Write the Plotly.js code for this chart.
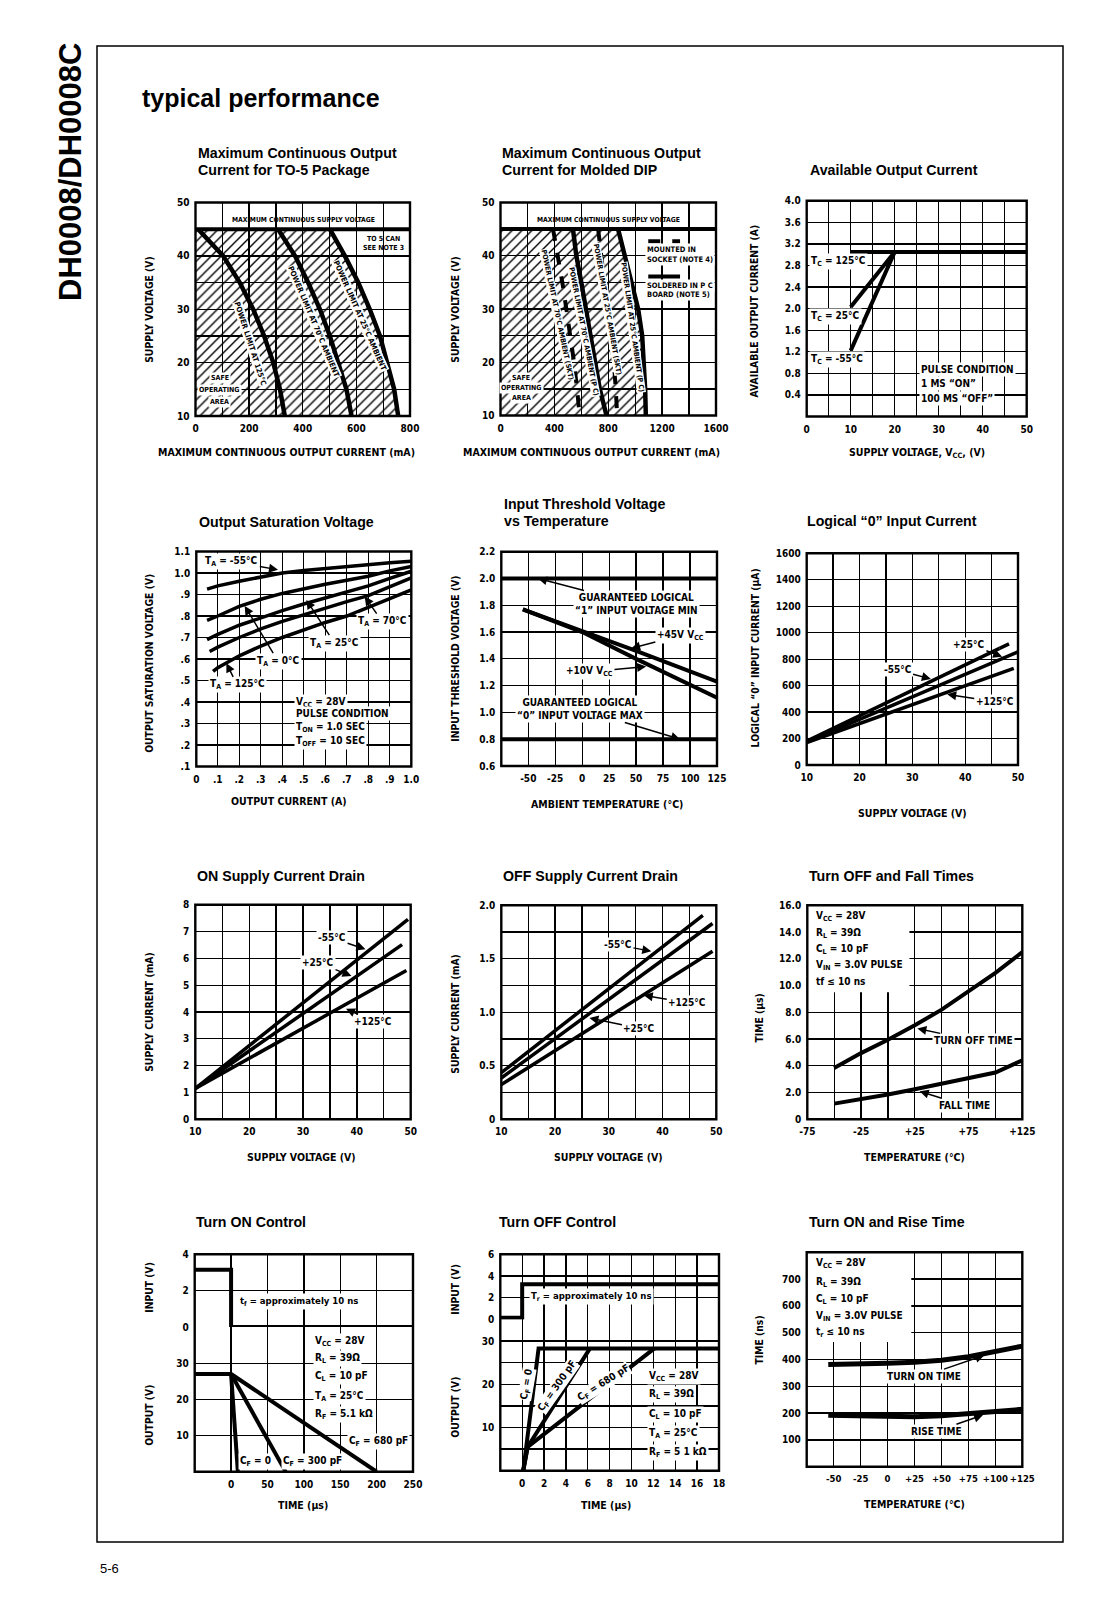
<!DOCTYPE html>
<html><head><meta charset="utf-8">
<script src="https://cdn.plot.ly/plotly-3.0.1.min.js"></script>
<style>html,body{margin:0;padding:0;background:#fff}#chart{width:1101px;height:1599px}</style>
</head><body><div id="chart"></div>
<script>
// ================= DATA =================
// 1: Maximum Continuous Output Current for TO-5 Package
const c1_voltage = [45, 40, 35, 30, 25, 20, 15, 10];
const c1_i125 = [10, 103, 165, 215, 256, 290, 315, 333];
const c1_i70 = [308, 371, 420, 464, 501, 532, 563, 582];
const c1_i25 = [501, 557, 607, 650, 688, 716, 741, 756];
const c1_maxSupply = 45;
const c1_xgrid = [0,100,200,300,400,500,600,700,800];
const c1_xticks = [0,200,400,600,800];
const c1_xtext = ['0','200','400','600','800'];
const c1_ygrid = [10,15,20,25,30,35,40,45,50];
const c1_yticks = [10,20,30,40,50];
const c1_ytext = ['10','20','30','40','50'];
// 2: Maximum Continuous Output Current for Molded DIP
const c2_voltage = [45, 40, 35, 30, 25, 20, 15, 10];
const c2_i70skt = [390, 427, 459, 489, 519, 546, 568, 588];
const c2_i70pc = [538, 563, 600, 633, 663, 700, 737, 787];
const c2_i25skt = [725, 749, 774, 799, 824, 841, 856, 866];
const c2_i25pc = [873, 923, 973, 1022, 1052, 1067, 1074, 1079];
const c2_maxSupply = 45;
const c2_xgrid = [0,200,400,600,800,1000,1200,1400,1600];
const c2_xticks = [0,400,800,1200,1600];
const c2_xtext = ['0','400','800','1200','1600'];
// 3: Available Output Current
const c3_vcc125 = [10, 50];
const c3_i125 = [3.05, 3.05];
const c3_vcc25 = [10, 20];
const c3_i25 = [2.03, 3.05];
const c3_vccm55 = [10, 20];
const c3_im55 = [1.22, 3.05];
const c3_xgrid = [0,5,10,15,20,25,30,35,40,45,50];
const c3_xticks = [0,10,20,30,40,50];
const c3_xtext = ['0','10','20','30','40','50'];
const c3_ygrid = [0,0.4,0.8,1.2,1.6,2.0,2.4,2.8,3.2,3.6,4.0];
const c3_yticks = [0.4,0.8,1.2,1.6,2.0,2.4,2.8,3.2,3.6,4.0];
const c3_ytext = ['0.4','0.8','1.2','1.6','2.0','2.4','2.8','3.2','3.6','4.0'];
// 4: Output Saturation Voltage
const c4_im55 = [0.05,0.1,0.2,0.3,0.4,0.5,0.6,0.7,0.8,0.9,1.0];
const c4_vm55 = [0.925,0.94,0.962,0.983,1.0,1.012,1.022,1.032,1.04,1.048,1.055];
const c4_i0 = [0.05,0.1,0.2,0.3,0.4,0.5,0.6,0.7,0.8,0.9,1.0];
const c4_v0 = [0.78,0.80,0.845,0.878,0.905,0.928,0.948,0.966,0.985,1.01,1.03];
const c4_i25 = [0.05,0.1,0.2,0.3,0.4,0.5,0.6,0.7,0.8,0.9,1.0];
const c4_v25 = [0.69,0.715,0.757,0.792,0.825,0.856,0.885,0.912,0.94,0.975,1.008];
const c4_i70 = [0.062,0.1,0.2,0.3,0.4,0.5,0.6,0.7,0.8,0.9,1.0];
const c4_v70 = [0.635,0.655,0.70,0.74,0.775,0.807,0.838,0.867,0.895,0.935,0.977];
const c4_i125 = [0.078,0.1,0.2,0.3,0.4,0.5,0.6,0.7,0.8,0.9,1.0];
const c4_v125 = [0.542,0.56,0.615,0.66,0.70,0.735,0.77,0.80,0.84,0.88,0.922];
const c4_xticks = [0,0.1,0.2,0.3,0.4,0.5,0.6,0.7,0.8,0.9,1.0];
const c4_xtext = ['0','.1','.2','.3','.4','.5','.6','.7','.8','.9','1.0'];
const c4_yticks = [0.1,0.2,0.3,0.4,0.5,0.6,0.7,0.8,0.9,1.0,1.1];
const c4_ytext = ['.1','.2','.3','.4','.5','.6','.7','.8','.9','1.0','1.1'];
// 5: Input Threshold Voltage vs Temperature
const c5_temp = [-55, 0, 50, 125];
const c5_v45 = [1.77, 1.61, 1.46, 1.23];
const c5_v10 = [1.77, 1.60, 1.40, 1.11];
const c5_tempSpan = [-75, 125];
const c5_logic1 = 2.0;
const c5_logic0 = 0.8;
const c5_xgrid = [-75,-50,-25,0,25,50,75,100,125];
const c5_xticks = [-50,-25,0,25,50,75,100,125];
const c5_xtext = ['-50','-25','0','25','50','75','100','125'];
const c5_yticks = [0.6,0.8,1.0,1.2,1.4,1.6,1.8,2.0,2.2];
const c5_ytext = ['0.6','0.8','1.0','1.2','1.4','1.6','1.8','2.0','2.2'];
// 6: Logical "0" Input Current
const c6_vm55 = [10, 46.5];
const c6_im55 = [180, 882];
const c6_vm55ext = [46.5, 49.2];
const c6_im55ext = [882, 932];
const c6_v25 = [10, 50];
const c6_i25 = [175, 856];
const c6_v125 = [10, 49.2];
const c6_i125 = [170, 730];
const c6_xgrid = [10,15,20,25,30,35,40,45,50];
const c6_xticks = [10,20,30,40,50];
const c6_xtext = ['10','20','30','40','50'];
const c6_yticks = [0,200,400,600,800,1000,1200,1400,1600];
const c6_ytext = ['0','200','400','600','800','1000','1200','1400','1600'];
// 7: ON Supply Current Drain
const c7_vm55 = [10, 49.5];
const c7_im55 = [1.15, 7.45];
const c7_v25 = [10, 48.4];
const c7_i25 = [1.15, 6.51];
const c7_v125 = [10, 49.2];
const c7_i125 = [1.15, 5.55];
const c7_yticks = [0,1,2,3,4,5,6,7,8];
const c7_ytext = ['0','1','2','3','4','5','6','7','8'];
// 8: OFF Supply Current Drain
const c8_vm55 = [10, 47.5];
const c8_im55 = [0.436, 1.906];
const c8_v25 = [10, 49.3];
const c8_i25 = [0.386, 1.83];
const c8_v125 = [10, 49.3];
const c8_i125 = [0.324, 1.57];
const c8_ygrid = [0,0.25,0.5,0.75,1.0,1.25,1.5,1.75,2.0];
const c8_yticks = [0,0.5,1.0,1.5,2.0];
const c8_ytext = ['0','0.5','1.0','1.5','2.0'];
// 9: Turn OFF and Fall Times
const c9_temp = [-50, -25, 0, 25, 50, 75, 100, 125];
const c9_turnOff = [3.84, 4.95, 5.95, 7.03, 8.2, 9.55, 10.95, 12.5];
const c9_fall = [1.17, 1.5, 1.85, 2.25, 2.65, 3.05, 3.5, 4.41];
const c9_xgrid = [-75,-50,-25,0,25,50,75,100,125];
const c9_xticks = [-75,-25,25,75,125];
const c9_xtext = ['-75','-25','+25','+75','+125'];
const c9_yticks = [0,2,4,6,8,10,12,14,16];
const c9_ytext = ['0','2.0','4.0','6.0','8.0','10.0','12.0','14.0','16.0'];
// 10: Turn ON Control
const c10_inT = [-50, 0, 0, 250];
const c10_inV = [3.15, 3.15, 0, 0];
const c10_holdT = [-50, 0];
const c10_holdV = [27, 27];
const c10_cf0T = [0, 9.3];
const c10_cf0V = [27, 0];
const c10_cf300T = [0, 75];
const c10_cf300V = [27, 0];
const c10_cf680T = [0, 200];
const c10_cf680V = [27, 0];
const c10_xgrid = [-50,0,50,100,150,200,250];
const c10_xticks = [0,50,100,150,200,250];
const c10_xtext = ['0','50','100','150','200','250'];
const c10_outGrid = [0,10,20,30,40];
const c10_outTicks = [10,20,30];
const c10_outText = ['10','20','30'];
const c10_inTicks = [0,2,4];
const c10_inText = ['0','2','4'];
// 11: Turn OFF Control
const c11_inT = [-2, 0, 0, 18];
const c11_inV = [0.15, 0.15, 3.24, 3.24];
const c11_cf0T = [0.1, 1.5, 18];
const c11_cf0V = [0, 28.3, 28.3];
const c11_cf300T = [0.1, 0.5, 6.2];
const c11_cf300V = [0, 5.5, 28.3];
const c11_cf680T = [0.1, 0.5, 12.1];
const c11_cf680V = [0, 5.5, 28.3];
const c11_xgrid = [-2,0,2,4,6,8,10,12,14,16,18];
const c11_xticks = [0,2,4,6,8,10,12,14,16,18];
const c11_xtext = ['0','2','4','6','8','10','12','14','16','18'];
const c11_outGrid = [0,5,10,15,20,25,30,35];
const c11_outTicks = [10,20,30];
const c11_outText = ['10','20','30'];
const c11_inTicks = [0,2,4,6];
const c11_inText = ['0','2','4','6'];
// 12: Turn ON and Rise Time
const c12_temp = [-55, -25, 0, 25, 50, 75, 100, 125];
const c12_turnOn = [381, 382, 386, 390, 397, 410, 428, 450];
const c12_rise = [192, 190, 186, 186, 190, 197, 205, 214];
const c12_xgrid = [-75,-50,-25,0,25,50,75,100,125];
const c12_xticks = [-50,-25,0,25,50,75,100,125];
const c12_xtext = ['-50','-25','0','+25','+50','+75','+100','+125'];
const c12_ygrid = [0,100,200,300,400,500,600,700,800];
const c12_yticks = [100,200,300,400,500,600,700];
const c12_ytext = ['100','200','300','400','500','600','700'];

// ================= LAYOUT =================
const W = 1101, H = 1599;
const CF = 'Liberation Sans Narrow, DejaVu Sans Condensed, Roboto Condensed, Liberation Sans, sans-serif';
const TF = 'Liberation Sans, Arial, Helvetica, sans-serif';
const boxes = {
  1:[195.5,410,202.5,416], 2:[500.5,716,202.5,415.5], 3:[806.7,1026.7,200.7,416.5],
  4:[196.3,411.3,551.5,766.5], 5:[501.3,717,551.7,766], 6:[806.7,1018,553.3,765],
  7:[195.3,410.7,904.7,1119.3], 8:[501.3,716.3,905.3,1119.3], 9:[807.3,1022.3,905.3,1119.3],
  10:[194.7,413,1254.3,1471.7], 11:[500.3,719,1254.3,1470.7], 12:[806.7,1022.3,1252.3,1466.7]
};
const split10 = 1327, split11 = 1319.5;

const layout = {width:W, height:H, margin:{l:0,r:0,t:0,b:0}, paper_bgcolor:'#fff', plot_bgcolor:'#fff',
  showlegend:false, annotations:[], shapes:[], hovermode:false};
const sfx = i => i === 1 ? '' : String(i);
const tickFont = {family:CF, size:10, color:'#000', weight:'bold'};
function axisBase(vals, text, grid){
  return {tickmode:'array', tickvals:vals, ticktext:text, showgrid:true, gridcolor:'#000', gridwidth:1.3,
    minor:{tickmode:'array', tickvals:grid || vals, showgrid:true, gridcolor:'#000', gridwidth:1.3, ticks:''},
    zeroline:false, showline:false, ticks:'', ticklabelstandoff:5, tickangle:0, tickfont:tickFont, fixedrange:true};
}
function addX(i, range, vals, text, grid, anchor){
  const b = boxes[i];
  layout['xaxis'+sfx(i)] = Object.assign(axisBase(vals, text, grid),
    {domain:[b[0]/W, b[1]/W], range, anchor: anchor || ('y'+sfx(i))});
}
function addY(key, i, top, bottom, range, vals, text, grid, anchor){
  layout['yaxis'+key] = Object.assign(axisBase(vals, text, grid),
    {domain:[1-bottom/H, 1-top/H], range, anchor: anchor || ('x'+sfx(i))});
}
addX(1,[0,800],c1_xticks,c1_xtext,c1_xgrid); addY('',1,boxes[1][2],boxes[1][3],[10,50],c1_yticks,c1_ytext,c1_ygrid);
addX(2,[0,1600],c2_xticks,c2_xtext,c2_xgrid); addY('2',2,boxes[2][2],boxes[2][3],[10,50],c1_yticks,c1_ytext,c1_ygrid);
addX(3,[0,50],c3_xticks,c3_xtext,c3_xgrid); addY('3',3,boxes[3][2],boxes[3][3],[0,4],c3_yticks,c3_ytext,c3_ygrid);
addX(4,[0,1],c4_xticks,c4_xtext); addY('4',4,boxes[4][2],boxes[4][3],[0.1,1.1],c4_yticks,c4_ytext);
addX(5,[-75,125],c5_xticks,c5_xtext,c5_xgrid); addY('5',5,boxes[5][2],boxes[5][3],[0.6,2.2],c5_yticks,c5_ytext);
addX(6,[10,50],c6_xticks,c6_xtext,c6_xgrid); addY('6',6,boxes[6][2],boxes[6][3],[0,1600],c6_yticks,c6_ytext);
addX(7,[10,50],c6_xticks,c6_xtext,c6_xgrid); addY('7',7,boxes[7][2],boxes[7][3],[0,8],c7_yticks,c7_ytext);
addX(8,[10,50],c6_xticks,c6_xtext,c6_xgrid); addY('8',8,boxes[8][2],boxes[8][3],[0,2],c8_yticks,c8_ytext,c8_ygrid);
addX(9,[-75,125],c9_xticks,c9_xtext,c9_xgrid); addY('9',9,boxes[9][2],boxes[9][3],[0,16],c9_yticks,c9_ytext);
addX(10,[-50,250],c10_xticks,c10_xtext,c10_xgrid); addY('10',10,split10,boxes[10][3],[0,40],c10_outTicks,c10_outText,c10_outGrid);
addY('13',10,boxes[10][2],split10,[0,4],c10_inTicks,c10_inText,null,'x10');
addX(11,[-2,18],c11_xticks,c11_xtext,c11_xgrid); addY('11',11,split11,boxes[11][3],[0,35],c11_outTicks,c11_outText,c11_outGrid);
addY('14',11,boxes[11][2],split11,[0,6],c11_inTicks,c11_inText,null,'x11');
addX(12,[-75,125],c12_xticks,c12_xtext,c12_xgrid); addY('12',12,boxes[12][2],boxes[12][3],[0,800],c12_yticks,c12_ytext,c12_ygrid);
layout.xaxis12.tickfont = {family:CF, size:9.5, color:'#000', weight:'bold'};

// ================= TRACES =================
const traces = [];
function L(i, x, y, w, dash, yax){
  traces.push({type:'scatter', mode:'lines', x, y, xaxis:'x'+sfx(i), yaxis: yax || ('y'+sfx(i)),
    line:{color:'#000', width:w||4, dash:dash||'solid'}, hoverinfo:'skip'});
}
function hatch(i, x, y){
  traces.push({type:'scatter', mode:'lines', x, y, xaxis:'x'+sfx(i), yaxis:'y'+sfx(i), fill:'toself',
    fillcolor:'rgba(0,0,0,0)', line:{width:0, color:'rgba(0,0,0,0)'},
    fillpattern:{shape:'/', size:7, solidity:0.2, fgcolor:'#000', bgcolor:'rgba(0,0,0,0)', fillmode:'replace'},
    hoverinfo:'skip'});
}
hatch(1, [0, 0].concat(c1_i25), [10, c1_maxSupply].concat(c1_voltage));
L(1, [0, 800], [c1_maxSupply, c1_maxSupply], 4);
L(1, c1_i125, c1_voltage, 4.5); L(1, c1_i70, c1_voltage, 4.5); L(1, c1_i25, c1_voltage, 4.5);
hatch(2, [0, 0].concat(c2_i25pc), [10, c2_maxSupply].concat(c2_voltage));
L(2, [0, 1600], [c2_maxSupply, c2_maxSupply], 4);
L(2, c2_i70skt, c2_voltage, 4, 'dash'); L(2, c2_i70pc, c2_voltage, 4.5);
L(2, c2_i25skt, c2_voltage, 4, 'dash'); L(2, c2_i25pc, c2_voltage, 4.5);
L(3, c3_vcc125, c3_i125, 4); L(3, c3_vcc25, c3_i25, 4); L(3, c3_vccm55, c3_im55, 4);
L(4, c4_im55, c4_vm55, 3.5); L(4, c4_i0, c4_v0, 3.5); L(4, c4_i25, c4_v25, 3.5);
L(4, c4_i70, c4_v70, 3.5); L(4, c4_i125, c4_v125, 3.5);
L(5, c5_tempSpan, [c5_logic1, c5_logic1], 4); L(5, c5_tempSpan, [c5_logic0, c5_logic0], 4);
L(5, c5_temp, c5_v45, 4); L(5, c5_temp, c5_v10, 4);
L(6, c6_vm55, c6_im55, 3.5); L(6, c6_vm55ext, c6_im55ext, 3.5, 'dash');
L(6, c6_v25, c6_i25, 3.5); L(6, c6_v125, c6_i125, 3.5);
L(7, c7_vm55, c7_im55, 3.5); L(7, c7_v25, c7_i25, 3.5); L(7, c7_v125, c7_i125, 3.5);
L(8, c8_vm55, c8_im55, 3.5); L(8, c8_v25, c8_i25, 3.5); L(8, c8_v125, c8_i125, 3.5);
L(9, c9_temp, c9_turnOff, 4); L(9, c9_temp, c9_fall, 4);
L(10, c10_inT, c10_inV, 4, null, 'y13');
L(10, c10_holdT, c10_holdV, 4); L(10, c10_cf0T, c10_cf0V, 4); L(10, c10_cf300T, c10_cf300V, 4); L(10, c10_cf680T, c10_cf680V, 4);
L(11, c11_inT, c11_inV, 4, null, 'y14');
L(11, c11_cf0T, c11_cf0V, 4); L(11, c11_cf300T, c11_cf300V, 4); L(11, c11_cf680T, c11_cf680V, 4);
L(12, c12_temp, c12_turnOn, 5); L(12, c12_temp, c12_rise, 5);

// ================= ANNOTATIONS =================
function T(xref, yref, x, y, text, o){
  o = o || {};
  layout.annotations.push({xref, yref, x, y, text, showarrow:false,
    font:{family:o.fam||CF, size:o.size||10, color:'#000', weight:o.wt||'bold'},
    xanchor:o.xa||'center', yanchor:o.ya||'middle', align:o.align||'left',
    bgcolor:o.bg||'rgba(0,0,0,0)', borderpad:o.pad===undefined?1:o.pad, textangle:o.ang||0});
}
const t = (i, x, y, text, o) => T('x'+sfx(i), (o&&o.yref)||('y'+sfx(i)), x, y, text, o);
const P = (x, y, text, o) => T('paper','paper', x/W, 1-y/H, text, o);
// label with arrow: text centred at (lx, ly), arrow pointing to (x, y)
function TA(i, x, y, lx, ly, text, o){
  o = o || {};
  const xr = 'x'+sfx(i), yr = o.yref || ('y'+sfx(i));
  layout.annotations.push({xref:xr, yref:yr, x, y, axref:xr, ayref:yr, ax:lx, ay:ly, text,
    showarrow:true, arrowhead:2, arrowsize:1.2, arrowwidth:1.5, arrowcolor:'#000', standoff:0, startstandoff:0,
    font:{family:CF, size:o.size||10, color:'#000', weight:'bold'}, align:o.align||'left',
    bgcolor:'#fff', borderpad:1});
}
const WB = '#fff';

// page texts
P(71, 172, 'DH0008/DH0008C', {fam:TF, size:31, ang:-90});
P(139.5, 98, 'typical performance', {fam:TF, size:25, xa:'left'});
P(98, 1568, '5-6', {fam:TF, size:13, wt:'normal', xa:'left'});

// chart titles (each line separately)
const tf = {fam:TF, size:14.2, xa:'left'};
P(195.7, 153, 'Maximum Continuous Output', tf); P(195.7, 170, 'Current for TO-5 Package', tf);
P(499.5, 153, 'Maximum Continuous Output', tf); P(499.5, 170, 'Current for Molded DIP', tf);
P(807.5, 170, 'Available Output Current', tf);
P(196.8, 522, 'Output Saturation Voltage', tf);
P(501.6, 503.5, 'Input Threshold Voltage', tf); P(501.6, 521, 'vs Temperature', tf);
P(805.4, 521, 'Logical “0” Input Current', tf);
P(194.7, 875.7, 'ON Supply Current Drain', tf);
P(500.5, 875.7, 'OFF Supply Current Drain', tf);
P(807.4, 875.7, 'Turn OFF and Fall Times', tf);
P(193.7, 1222.3, 'Turn ON Control', tf);
P(496.5, 1222.3, 'Turn OFF Control', tf);
P(807.4, 1222.3, 'Turn ON and Rise Time', tf);

// axis titles
const xt = {size:10.5};
P(286, 452, 'MAXIMUM CONTINUOUS OUTPUT CURRENT (mA)', xt);
P(592, 452, 'MAXIMUM CONTINUOUS OUTPUT CURRENT (mA)', xt);
P(917, 452.6, 'SUPPLY VOLTAGE, V<sub>CC</sub>, (V)', xt);
P(289, 801, 'OUTPUT CURRENT (A)', xt);
P(607, 804, 'AMBIENT TEMPERATURE (°C)', xt);
P(912, 812.5, 'SUPPLY VOLTAGE (V)', xt);
P(301, 1157, 'SUPPLY VOLTAGE (V)', xt);
P(608, 1157, 'SUPPLY VOLTAGE (V)', xt);
P(915, 1157, 'TEMPERATURE (°C)', xt);
P(303, 1504.7, 'TIME (μs)', xt);
P(606, 1504.7, 'TIME (μs)', xt);
P(915, 1503.7, 'TEMPERATURE (°C)', xt);
const yt = {size:10.3, ang:-90};
P(148.8, 309, 'SUPPLY VOLTAGE (V)', yt);
P(454.7, 309, 'SUPPLY VOLTAGE (V)', yt);
P(754.4, 311, 'AVAILABLE OUTPUT CURRENT (A)', yt);
P(148.8, 663, 'OUTPUT SATURATION VOLTAGE (V)', yt);
P(454.7, 659, 'INPUT THRESHOLD VOLTAGE (V)', yt);
P(755.4, 658, 'LOGICAL “0” INPUT CURRENT (μA)', yt);
P(148.8, 1012, 'SUPPLY CURRENT (mA)', yt);
P(454.7, 1014, 'SUPPLY CURRENT (mA)', yt);
P(758.5, 1018, 'TIME (μs)', yt);
P(148.8, 1287, 'INPUT (V)', yt);
P(148.8, 1415, 'OUTPUT (V)', yt);
P(454.7, 1289, 'INPUT (V)', yt);
P(454.7, 1407, 'OUTPUT (V)', yt);
P(758.5, 1340, 'TIME (ns)', yt);

// chart 1 labels
t(1, 401, 46.75, 'MAXIMUM CONTINUOUS SUPPLY VOLTAGE', {size:6.8});
t(1, 700, 43.1, 'TO 5 CAN', {size:7});
t(1, 700, 41.5, 'SEE NOTE 3', {size:7});
t(1, 91, 17.1, 'SAFE', {size:7, bg:WB});
t(1, 91, 14.9, 'OPERATING', {size:7, bg:WB});
t(1, 91, 12.6, 'AREA', {size:7, bg:WB});
t(1, 205, 23.6, 'POWER LIMIT AT 125°C', {size:7.5, ang:72, bg:WB, pad:0});
t(1, 441, 27.7, 'POWER LIMIT AT 70°C AMBIENT', {size:7.5, ang:67, bg:WB, pad:0});
t(1, 613, 28.8, 'POWER LIMIT AT 25°C AMBIENT', {size:7.5, ang:66, bg:WB, pad:0});
// chart 2 labels
t(2, 800, 46.75, 'MAXIMUM CONTINUOUS SUPPLY VOLTAGE', {size:6.8});
t(2, 154, 17.1, 'SAFE', {size:7, bg:WB});
t(2, 154, 15.2, 'OPERATING', {size:7, bg:WB});
t(2, 154, 13.3, 'AREA', {size:7, bg:WB});
t(2, 419, 28.8, 'POWER LIMIT AT 70°C AMBIENT (SKT)', {size:7, ang:78, bg:WB, pad:0});
t(2, 618, 25.7, 'POWER LIMIT AT 70°C AMBIENT (P C)', {size:7, ang:79, bg:WB, pad:0});
t(2, 792, 30, 'POWER LIMIT AT 25°C AMBIENT (SKT)', {size:7, ang:80, bg:WB, pad:0});
t(2, 978, 26.6, 'POWER LIMIT AT 25°C AMBIENT (P C)', {size:7, ang:82, bg:WB, pad:0});
t(2, 1072, 41.1, 'MOUNTED IN', {size:7.5, xa:'left', bg:WB});
t(2, 1072, 39.25, 'SOCKET (NOTE 4)', {size:7.5, xa:'left', bg:WB});
t(2, 1072, 34.4, 'SOLDERED IN P C', {size:7.5, xa:'left', bg:WB});
t(2, 1072, 32.7, 'BOARD (NOTE 5)', {size:7.5, xa:'left', bg:WB});
// chart 3 labels
t(3, 0.6, 2.87, 'T<sub>C</sub> = 125°C', {xa:'left', bg:WB});
t(3, 0.6, 1.85, 'T<sub>C</sub> = 25°C', {xa:'left', bg:WB});
t(3, 0.6, 1.05, 'T<sub>C</sub> = -55°C', {xa:'left', bg:WB});
t(3, 25.6, 0.864, 'PULSE CONDITION', {xa:'left', bg:WB});
t(3, 25.6, 0.605, '1 MS “ON”', {xa:'left', bg:WB});
t(3, 25.6, 0.34, '100 MS “OFF”', {xa:'left', bg:WB});
// chart 4 labels
TA(4, 0.38, 1.015, 0.165, 1.053, 'T<sub>A</sub> = -55°C');
TA(4, 0.783, 0.891, 0.865, 0.774, 'T<sub>A</sub> = 70°C');
TA(4, 0.512, 0.875, 0.643, 0.674, 'T<sub>A</sub> = 25°C');
TA(4, 0.225, 0.847, 0.38, 0.59, 'T<sub>A</sub> = 0°C');
TA(4, 0.14, 0.58, 0.19, 0.48, 'T<sub>A</sub> = 125°C');
t(4, 0.455, 0.40, 'V<sub>CC</sub> = 28V', {xa:'left', bg:WB});
t(4, 0.455, 0.347, 'PULSE CONDITION', {xa:'left', bg:WB});
t(4, 0.455, 0.28, 'T<sub>ON</sub> = 1.0 SEC', {xa:'left', bg:WB});
t(4, 0.455, 0.218, 'T<sub>OFF</sub> = 10 SEC', {xa:'left', bg:WB});
// chart 5 labels
TA(5, -41, 2.0, 50, 1.81, 'GUARANTEED LOGICAL<br>“1” INPUT VOLTAGE MIN', {align:'center'});
TA(5, 90.7, 0.8, -2, 1.025, 'GUARANTEED LOGICAL<br>“0” INPUT VOLTAGE MAX', {align:'center'});
TA(5, 45.4, 1.478, 91, 1.574, '+45V V<sub>CC</sub>');
TA(5, 59.3, 1.342, 6.8, 1.304, '+10V V<sub>CC</sub>');
// chart 6 labels
TA(6, 47, 819, 40.7, 912, '+25°C');
TA(6, 33.5, 650, 27.2, 718, '-55°C');
TA(6, 36.6, 534, 45.6, 479, '+125°C');
// chart 7 labels
TA(7, 41.6, 6.34, 35.4, 6.76, '-55°C');
TA(7, 39, 5.34, 32.8, 5.84, '+25°C');
TA(7, 38, 4.12, 43, 3.65, '+125°C');
// chart 8 labels
TA(8, 37.9, 1.57, 31.7, 1.63, '-55°C');
TA(8, 36.5, 1.159, 44.6, 1.09, '+125°C');
TA(8, 26.4, 0.947, 35.7, 0.85, '+25°C');
// chart 9 labels
layout.shapes.push({type:'rect', xref:'x9', yref:'y9', x0:-75, x1:20, y0:9.5, y1:16, fillcolor:'#fff', line:{width:0}, layer:'between'});
t(9, -68.8, 15.13, 'V<sub>CC</sub> = 28V', {xa:'left'});
t(9, -68.8, 13.88, 'R<sub>L</sub> = 39Ω', {xa:'left'});
t(9, -68.8, 12.7, 'C<sub>L</sub> = 10 pF', {xa:'left'});
t(9, -68.8, 11.5, 'V<sub>IN</sub> = 3.0V PULSE', {xa:'left'});
t(9, -68.8, 10.3, 'tf ≤ 10 ns', {xa:'left'});
TA(9, 27.4, 6.78, 80, 5.9, 'TURN OFF TIME');
TA(9, 29.5, 2.09, 70.8, 1.05, 'FALL TIME');
// chart 10 labels
t(10, 9.3, 1.42, 't<sub>f</sub> = approximately 10 ns', {xa:'left', bg:WB, yref:'y13', size:9.5});
t(10, 113, 36.1, 'V<sub>CC</sub> = 28V', {xa:'left', bg:WB});
t(10, 113, 31.3, 'R<sub>L</sub> = 39Ω', {xa:'left', bg:WB});
t(10, 113, 26.4, 'C<sub>L</sub> = 10 pF', {xa:'left', bg:WB});
t(10, 113, 20.8, 'T<sub>A</sub> = 25°C', {xa:'left', bg:WB});
t(10, 113, 15.9, 'R<sub>F</sub> = 5.1 kΩ', {xa:'left', bg:WB});
t(10, 203, 8.3, 'C<sub>F</sub> = 680 pF', {bg:WB});
t(10, 33, 2.8, 'C<sub>F</sub> = 0', {bg:WB});
t(10, 112, 2.8, 'C<sub>F</sub> = 300 pF', {bg:WB});
// chart 11 labels
t(11, 0.6, 2.12, 'T<sub>r</sub> = approximately 10 ns', {xa:'left', bg:WB, yref:'y14', size:9.5});
t(11, 0.45, 19.9, 'C<sub>F</sub> = 0', {ang:-80, bg:WB, pad:0, size:10});
t(11, 3.2, 19.5, 'C<sub>F</sub> = 300 pF', {ang:-55, bg:WB, pad:0, size:10});
t(11, 7.4, 20.3, 'C<sub>F</sub> = 680 pF', {ang:-32, bg:WB, pad:0, size:10});
t(11, 11.4, 21.9, 'V<sub>CC</sub> = 28V', {xa:'left', bg:WB});
t(11, 11.4, 17.6, 'R<sub>L</sub> = 39Ω', {xa:'left', bg:WB});
t(11, 11.4, 13.1, 'C<sub>L</sub> = 10 pF', {xa:'left', bg:WB});
t(11, 11.4, 8.7, 'T<sub>A</sub> = 25°C', {xa:'left', bg:WB});
t(11, 11.4, 4.3, 'R<sub>F</sub> = 5 1 kΩ', {xa:'left', bg:WB});
// chart 12 labels
layout.shapes.push({type:'rect', xref:'x12', yref:'y12', x0:-75, x1:22, y0:465, y1:800, fillcolor:'#fff', line:{width:0}, layer:'between'});
t(12, -68.2, 757, 'V<sub>CC</sub> = 28V', {xa:'left'});
t(12, -68.2, 687, 'R<sub>L</sub> = 39Ω', {xa:'left'});
t(12, -68.2, 624, 'C<sub>L</sub> = 10 pF', {xa:'left'});
t(12, -68.2, 561, 'V<sub>IN</sub> = 3.0V PULSE', {xa:'left'});
t(12, -68.2, 500, 't<sub>r</sub> ≤ 10 ns', {xa:'left'});
TA(12, 89.8, 416, 33.6, 338, 'TURN ON TIME');
TA(12, 88.6, 193, 45.4, 132, 'RISE TIME');

// chart 2 legend samples
layout.shapes.push({type:'line', xref:'x2', yref:'y2', x0:1097, x1:1333, y0:42.7, y1:42.7, line:{color:'#000', width:4, dash:'dash'}});
layout.shapes.push({type:'line', xref:'x2', yref:'y2', x0:1097, x1:1333, y0:36.1, y1:36.1, line:{color:'#000', width:4}});

// borders
for (const k in boxes){
  const b = boxes[k];
  layout.shapes.push({type:'rect', xref:'paper', yref:'paper', x0:b[0]/W, x1:b[1]/W, y0:1-b[3]/H, y1:1-b[2]/H,
    line:{color:'#000', width:2.4}, fillcolor:'rgba(0,0,0,0)', layer:'above'});
}
layout.shapes.push({type:'rect', xref:'paper', yref:'paper', x0:97/W, x1:1063/W, y0:1-1542/H, y1:1-46/H,
  line:{color:'#000', width:1.5}, fillcolor:'rgba(0,0,0,0)', layer:'above'});

Plotly.newPlot('chart', traces, layout, {staticPlot:true, displayModeBar:false});
</script></body></html>
